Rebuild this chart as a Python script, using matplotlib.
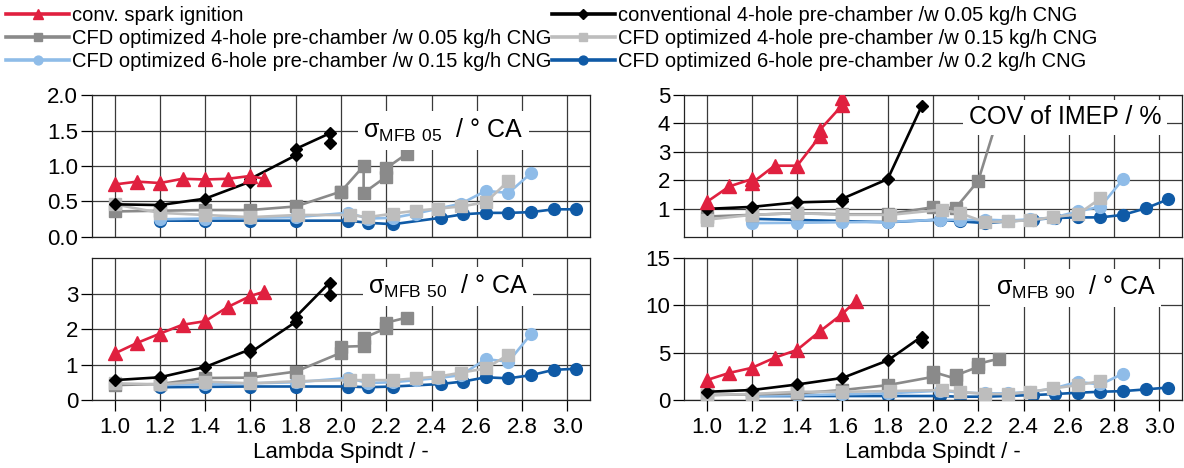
import numpy as np
import matplotlib
matplotlib.use('Agg')
import matplotlib.pyplot as plt
from matplotlib.lines import Line2D

# -----------------------------
# DATA
# -----------------------------
series_names = [
    "conv. spark ignition",
    "conventional 4-hole pre-chamber /w 0.05 kg/h CNG",
    "CFD optimized 4-hole pre-chamber /w 0.05 kg/h CNG",
    "CFD optimized 4-hole pre-chamber /w 0.15 kg/h CNG",
    "CFD optimized 6-hole pre-chamber /w 0.15 kg/h CNG",
    "CFD optimized 6-hole pre-chamber /w 0.2 kg/h CNG",
]

x_si = [1.0, 1.1, 1.2, 1.3, 1.4, 1.5, 1.6, 1.66]
x_conv = [1.0, 1.2, 1.4, 1.6, 1.6, 1.8, 1.8, 1.95, 1.95]
x_cfd4a = [1.0, 1.2, 1.4, 1.6, 1.8, 2.0, 2.0, 2.1, 2.1, 2.2, 2.2, 2.29]
x_cfd4b = [1.0, 1.2, 1.4, 1.6, 1.81, 2.04, 2.12, 2.23, 2.33, 2.43, 2.53, 2.64, 2.74]
x_cfd6a = [1.2, 1.4, 1.6, 1.8, 2.03, 2.12, 2.23, 2.33, 2.43, 2.53, 2.64, 2.74, 2.84]
x_cfd6b = [1.2, 1.4, 1.6, 1.8, 2.03, 2.12, 2.23, 2.44, 2.54, 2.64, 2.74, 2.84, 2.94, 3.04]

# sigma MFB 05
mfb05_si = [0.74, 0.78, 0.76, 0.82, 0.81, 0.82, 0.86, 0.82]
mfb05_conv = [0.46, 0.45, 0.54, 0.78, 0.82, 1.15, 1.24, 1.46, 1.33]
mfb05_cfd4a = [0.36, 0.37, 0.38, 0.38, 0.43, 0.64, 0.64, 1.00, 0.62, 0.85, 0.97, 1.17]
mfb05_cfd4b = [0.46, 0.34, 0.31, 0.28, 0.31, 0.31, 0.28, 0.33, 0.37, 0.40, 0.43, 0.49, 0.79]
mfb05_cfd6a = [0.25, 0.26, 0.27, 0.28, 0.34, 0.26, 0.27, 0.33, 0.40, 0.47, 0.65, 0.62, 0.90]
mfb05_cfd6b = [0.23, 0.23, 0.23, 0.23, 0.23, 0.20, 0.18, 0.27, 0.32, 0.34, 0.34, 0.35, 0.39, 0.39]

# sigma MFB 50
mfb50_si = [1.31, 1.61, 1.87, 2.12, 2.22, 2.62, 2.93, 3.05]
mfb50_conv = [0.56, 0.64, 0.93, 1.43, 1.34, 2.20, 2.34, 3.31, 2.97]
mfb50_cfd4a = [0.42, 0.45, 0.62, 0.63, 0.80, 1.33, 1.50, 1.52, 1.75, 2.02, 2.18, 2.32]
mfb50_cfd4b = [0.47, 0.44, 0.52, 0.47, 0.53, 0.56, 0.56, 0.56, 0.61, 0.66, 0.77, 0.89, 1.28]
mfb50_cfd6a = [0.42, 0.45, 0.47, 0.50, 0.62, 0.48, 0.50, 0.56, 0.62, 0.70, 1.15, 1.08, 1.86]
mfb50_cfd6b = [0.36, 0.37, 0.38, 0.38, 0.38, 0.36, 0.38, 0.45, 0.52, 0.64, 0.61, 0.70, 0.85, 0.88]

# COV of IMEP
x_si_cov = [1.0, 1.1, 1.2, 1.2, 1.3, 1.4, 1.5, 1.5, 1.6, 1.6, 1.66]
x_conv_cov = [1.0, 1.2, 1.4, 1.6, 1.6, 1.8, 1.95]
x_cfd4a_cov = [1.0, 1.2, 1.4, 1.6, 1.8, 2.0, 2.1, 2.2, 2.29]
cov_si = [1.23, 1.78, 2.04, 1.90, 2.51, 2.51, 3.54, 3.77, 4.65, 4.88, 6.5]
cov_conv = [0.99, 1.06, 1.22, 1.26, 1.35, 2.04, 4.61]
cov_cfd4a = [0.72, 0.78, 0.84, 0.80, 0.80, 1.05, 1.02, 1.98, 4.3]
cov_cfd4b = [0.61, 0.78, 0.84, 0.78, 0.78, 0.96, 0.84, 0.52, 0.55, 0.59, 0.70, 0.80, 1.36]
cov_cfd6a = [0.49, 0.50, 0.52, 0.53, 0.61, 0.60, 0.61, 0.58, 0.62, 0.68, 0.90, 1.07, 2.04]
cov_cfd6b = [0.64, 0.60, 0.56, 0.52, 0.61, 0.55, 0.49, 0.61, 0.67, 0.69, 0.69, 0.78, 1.01, 1.33]

# sigma MFB 90
x_conv_90 = [1.0, 1.2, 1.4, 1.6, 1.8, 1.95, 1.95]
mfb90_si = [2.1, 2.86, 3.4, 4.46, 5.3, 7.25, 9.1, 10.5]
mfb90_conv = [0.87, 1.05, 1.64, 2.33, 4.18, 6.7, 6.1]
mfb90_cfd4a = [0.52, 0.60, 0.70, 1.05, 1.57, 2.44, 2.96, 2.26, 2.60, 3.50, 3.83, 4.36]
mfb90_cfd4b = [0.52, 0.63, 0.87, 0.87, 0.94, 1.05, 0.87, 0.63, 0.63, 0.87, 1.22, 1.57, 2.0]
mfb90_cfd6a = [0.45, 0.50, 0.60, 0.70, 0.98, 0.80, 0.70, 0.70, 0.85, 1.20, 1.92, 1.64, 2.79]
mfb90_cfd6b = [0.42, 0.42, 0.42, 0.42, 0.42, 0.35, 0.35, 0.52, 0.63, 0.77, 0.87, 0.94, 1.12, 1.32]

x_ticks = [1.0, 1.2, 1.4, 1.6, 1.8, 2.0, 2.2, 2.4, 2.6, 2.8, 3.0]

# -----------------------------
# STYLE
# -----------------------------
plt.rcParams['font.family'] = ['Liberation Sans', 'DejaVu Sans']
plt.rcParams['mathtext.default'] = 'regular'

colors = ['#e0203f', '#000000', '#8a8a8a', '#bdbdbd', '#8fbce8', '#0f5aa6']
markers = ['^', 'D', 's', 's', 'o', 'o']
msizes = [9.5, 6.5, 8.5, 8.5, 8.5, 8.5]
zorders = [7, 6, 4, 5, 3, 2]


def draw_panel(ax, data, ylim, yticks, yfmt, label, lpos, show_x):
    # red/black end up on top, dark blue at the bottom
    for i, (xs, ys) in enumerate(data):
        ax.plot(xs, ys, color=colors[i], marker=markers[i], ms=msizes[i],
                lw=1.9, zorder=zorders[i], clip_on=True)
    ax.set_xlim(0.9, 3.1)
    ax.set_ylim(*ylim)
    ax.set_xticks(x_ticks)
    ax.set_yticks(yticks)
    ax.set_yticklabels([yfmt.format(v) for v in yticks])
    ax.grid(True, color='#3a3a3a', lw=0.9, zorder=0)
    ax.set_axisbelow(True)
    ax.tick_params(axis='y', direction='out', length=8, width=0.9,
                   labelsize=16, pad=2)
    if show_x:
        ax.set_xticklabels([f"{v:.1f}" for v in x_ticks])
        ax.tick_params(axis='x', direction='out', length=8, width=0.9,
                       labelsize=16, pad=4)
        ax.set_xlabel("Lambda Spindt / -", fontsize=16, labelpad=3)
    else:
        ax.tick_params(axis='x', length=0, labelbottom=False)
    for sp in ax.spines.values():
        sp.set_linewidth(0.9)
        sp.set_color('#222222')
    ax.text(lpos[0], lpos[1], label, transform=ax.transAxes, fontsize=18,
            ha='center', va='center', zorder=20,
            bbox=dict(facecolor='white', edgecolor='none', pad=4))


fig = plt.figure(figsize=(11.84, 4.68), dpi=100)
ax1 = fig.add_axes([0.0777, 0.4936, 0.4206, 0.3034])
ax2 = fig.add_axes([0.0777, 0.1453, 0.4206, 0.3034])
ax3 = fig.add_axes([0.5777, 0.4936, 0.4206, 0.3034])
ax4 = fig.add_axes([0.5777, 0.1453, 0.4206, 0.3034])

draw_panel(ax1, [(x_si, mfb05_si), (x_conv, mfb05_conv), (x_cfd4a, mfb05_cfd4a),
                 (x_cfd4b, mfb05_cfd4b), (x_cfd6a, mfb05_cfd6a), (x_cfd6b, mfb05_cfd6b)],
           (0, 2.0), [0.0, 0.5, 1.0, 1.5, 2.0], "{:.1f}",
           r"$\sigma_{MFB\ 05}$  / ° CA", (0.705, 0.75), False)
draw_panel(ax2, [(x_si, mfb50_si), (x_conv, mfb50_conv), (x_cfd4a, mfb50_cfd4a),
                 (x_cfd4b, mfb50_cfd4b), (x_cfd6a, mfb50_cfd6a), (x_cfd6b, mfb50_cfd6b)],
           (0, 4.0), [0, 1, 2, 3], "{:d}",
           r"$\sigma_{MFB\ 50}$  / ° CA", (0.715, 0.80), True)
draw_panel(ax3, [(x_si_cov, cov_si), (x_conv_cov, cov_conv), (x_cfd4a_cov, cov_cfd4a),
                 (x_cfd4b, cov_cfd4b), (x_cfd6a, cov_cfd6a), (x_cfd6b, cov_cfd6b)],
           (0, 5.0), [1, 2, 3, 4, 5], "{:d}",
           "COV of IMEP / %", (0.765, 0.845), False)
draw_panel(ax4, [(x_si, mfb90_si), (x_conv_90, mfb90_conv), (x_cfd4a, mfb90_cfd4a),
                 (x_cfd4b, mfb90_cfd4b), (x_cfd6a, mfb90_cfd6a), (x_cfd6b, mfb90_cfd6b)],
           (0, 15.0), [0, 5, 10, 15], "{:d}",
           r"$\sigma_{MFB\ 90}$  / ° CA", (0.787, 0.79), True)

# -----------------------------
# LEGEND (2 columns, row-major order)
# -----------------------------
handles = [Line2D([], [], color=colors[i], marker=markers[i], ms=msizes[i] * 0.75, lw=2.6)
           for i in range(6)]
order = [0, 2, 4, 1, 3, 5]
fig.legend([handles[i] for i in order], [series_names[i] for i in order],
           loc='upper left', bbox_to_anchor=(0.002, 0.995), ncol=2, frameon=False,
           handlelength=3.1, handletextpad=0.15, columnspacing=0.05,
           labelspacing=0.2, borderaxespad=0.0, borderpad=0.2,
           prop={'family': ['Liberation Sans'], 'size': 14.5})

fig.savefig("out.png", dpi=100)
plt.close(fig)
